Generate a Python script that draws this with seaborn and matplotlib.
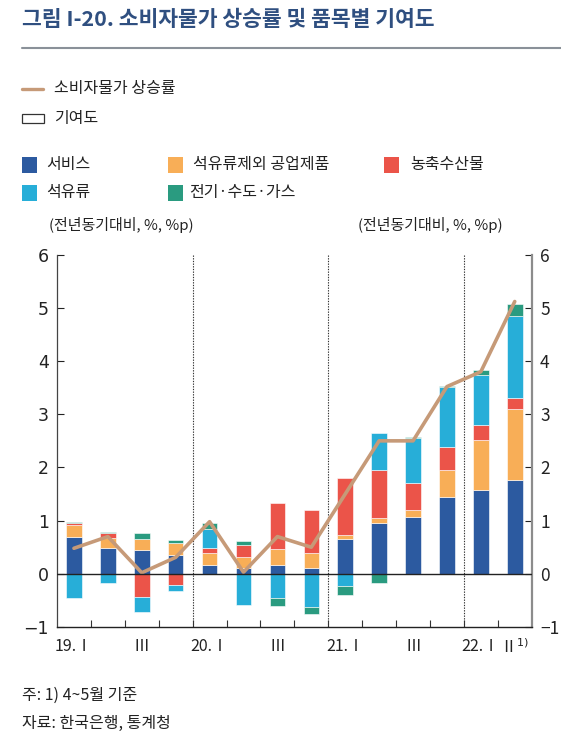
import numpy as np
import pandas as pd
import matplotlib.pyplot as plt
import seaborn as sns
from matplotlib.lines import Line2D
from matplotlib.patches import Rectangle

# DATA

quarters = ["19.1", "19.2", "19.3", "19.4", "20.1", "20.2", "20.3", "20.4",
            "21.1", "21.2", "21.3", "21.4", "22.1", "22.2"]
tick_labels = ["19.Ⅰ", "", "Ⅲ", "", "20.Ⅰ", "", "Ⅲ", "",
               "21.Ⅰ", "", "Ⅲ", "", "22.Ⅰ", "Ⅱ$^{1)}$"]

services = [0.70, 0.48, 0.45, 0.35, 0.16, 0.10, 0.16, 0.10, 0.66, 0.95, 1.07, 1.45, 1.58, 1.77]
industrial = [0.22, 0.19, 0.21, 0.22, 0.24, 0.21, 0.30, 0.30, 0.07, 0.10, 0.13, 0.51, 0.94, 1.32]
agri = [0.04, 0.10, -0.43, -0.21, 0.08, 0.24, 0.88, 0.80, 1.07, 0.90, 0.50, 0.43, 0.27, 0.22]
oil = [-0.45, -0.18, -0.28, -0.12, 0.37, -0.58, -0.46, -0.62, -0.23, 0.70, 0.85, 1.12, 0.95, 1.53]
utilities = [0.02, 0.02, 0.10, 0.07, 0.10, 0.06, -0.15, -0.14, -0.16, -0.18, 0.02, 0.03, 0.09, 0.23]
cpi = [0.48, 0.70, 0.02, 0.31, 0.98, 0.03, 0.70, 0.50, 1.50, 2.50, 2.50, 3.52, 3.80, 5.12]

series_names = ["서비스", "석유류제외 공업제품", "농축수산물", "석유류", "전기·수도·가스"]
series_values = [services, industrial, agri, oil, utilities]
series_colors = ["#2C5AA0", "#F8AE57", "#EB5449", "#27AED8", "#2A9B80"]
line_color = "#C69A78"

W, H = 561, 739


def px(x, y):
    # pixel position (from top-left) -> figure fraction
    return x / W, 1 - y / H


sns.set_style("white")
plt.rcParams["font.family"] = ["Noto Sans CJK KR", "DejaVu Sans"]

fig = plt.figure(figsize=(W / 100, H / 100), dpi=100)
left, top = px(57, 254.7)
right, bottom = px(531.7, 627)
ax = fig.add_axes([left, bottom, right - left, top - bottom])

# stacked bars: positives stack upward, negatives stack downward
pos_base = np.zeros(len(quarters))
neg_base = np.zeros(len(quarters))
for name, vals, color in zip(series_names, series_values, series_colors):
    vals = np.array(vals)
    base = np.where(vals >= 0, pos_base, neg_base)
    df = pd.DataFrame({"q": quarters, "v": vals})
    sns.barplot(data=df, x="q", y="v", order=quarters, bottom=base, color=color,
                width=0.46, saturation=1, edgecolor="white", linewidth=0.4, ax=ax)
    pos_base += np.where(vals >= 0, vals, 0)
    neg_base += np.where(vals < 0, vals, 0)

line_df = pd.DataFrame({"pos": np.arange(len(quarters)), "cpi": cpi})
sns.lineplot(data=line_df, x="pos", y="cpi", color=line_color, lw=2.6, ax=ax)

ax.axhline(0, color="#222222", lw=1.0, zorder=3)
for xb in [3.5, 7.5, 11.5]:
    ax.axvline(xb, color="#333333", lw=0.8, ls=(0, (1.2, 1.2)), zorder=0)

ax.set_xlim(-0.5, len(quarters) - 0.5)
ax.set_ylim(-1, 6)
ax.set_yticks(range(-1, 7))
ax.set_xticks(range(len(quarters)))
ax.set_xticks(np.arange(0.5, len(quarters) - 1), minor=True)
ax.set_xticklabels(tick_labels, fontsize=11.5, family=["Liberation Sans Narrow", "Noto Sans CJK KR"])
ax.set_xlabel("")
ax.set_ylabel("")
for lab in ax.get_yticklabels():
    lab.set_family(["Liberation Sans Narrow", "DejaVu Sans"])

ax.tick_params(axis="y", which="major", direction="in", length=5, width=0.8,
               left=True, right=True, labelleft=True, labelright=True,
               labelsize=12.5, colors="#222222", pad=6)
ax.tick_params(axis="x", which="major", length=0, pad=8, colors="#222222")
ax.tick_params(axis="x", which="minor", direction="in", length=5, width=0.8,
               bottom=True, color="#333333")

ax.spines["top"].set_visible(False)
ax.spines["left"].set_color("#444444")
ax.spines["left"].set_linewidth(0.9)
ax.spines["bottom"].set_color("#222222")
ax.spines["bottom"].set_linewidth(1.0)
ax.spines["right"].set_color("#8C8C8C")
ax.spines["right"].set_linewidth(1.6)

# title and rule
tx, ty = px(22, 20)
fig.text(tx, ty, "그림 I-20. 소비자물가 상승률 및 품목별 기여도", fontsize=15.5,
         fontweight="bold", color="#2F4F80", va="center", ha="left")
x0, y0 = px(22, 47.7)
x1, _ = px(561, 47.7)
fig.add_artist(Line2D([x0, x1], [y0, y0], color="#8A9199", lw=1.5))

text_kw = dict(fontsize=11.5, color="#222222", va="center", ha="left")

# line / bar legend
a, b = px(22, 89)
c, _ = px(43, 89)
fig.add_artist(Line2D([a, c], [b, b], color=line_color, lw=2.4))
fig.text(*px(54, 89), "소비자물가 상승률", **text_kw)
bx, by = px(22, 123)
bw, bh = 22 / W, 9 / H
fig.add_artist(Rectangle((bx, by), bw, bh, fill=False, edgecolor="#333333", lw=0.9))
fig.text(*px(54, 119), "기여도", **text_kw)

# category legend
legend_pos = [(22, 165), (168, 165), (384, 165), (22, 193), (168, 193)]
text_off = [24, 25, 26, 24, 21]
for (lx, ly), off, name, color in zip(legend_pos, text_off, series_names, series_colors):
    rx, ry = px(lx, ly + 7.5)
    fig.add_artist(Rectangle((rx, ry), 15 / W, 15 / H, color=color, lw=0))
    fig.text(*px(lx + off, ly), name, **text_kw)

unit_kw = dict(text_kw, fontsize=10.8)
fig.text(*px(49, 225), "(전년동기대비, %, %p)", **unit_kw)
fig.text(*px(358, 225), "(전년동기대비, %, %p)", **unit_kw)

# footnotes
fig.text(*px(22, 695), "주: 1) 4~5월 기준", **text_kw)
fig.text(*px(22, 723), "자료: 한국은행, 통계청", **text_kw)

fig.savefig("out.png", dpi=100)
